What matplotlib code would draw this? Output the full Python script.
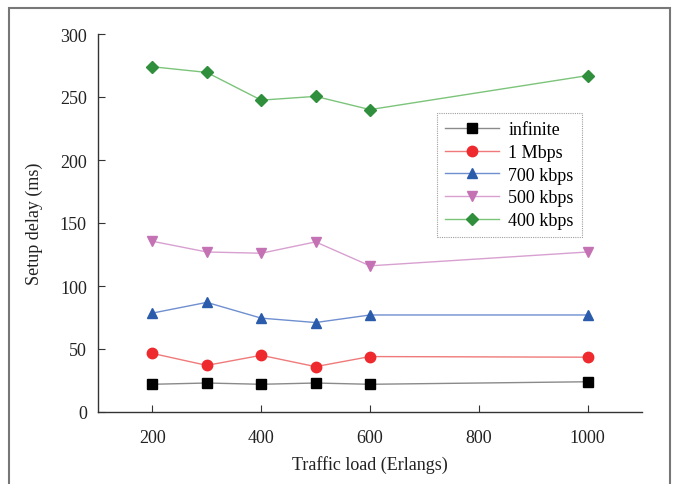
import matplotlib
matplotlib.use("Agg")
import matplotlib.pyplot as plt
from matplotlib.patches import Rectangle

plt.rcParams['font.family'] = ['Liberation Serif', 'DejaVu Serif']

x = [200, 300, 400, 500, 600, 1000]
series_names = ["infinite", "1 Mbps", "700 kbps", "500 kbps", "400 kbps"]
infinite = [22, 23, 22, 23, 22, 24]
mbps1 = [46.5, 37, 45, 36, 44, 43.5]
kbps700 = [78.5, 87, 74.5, 71, 77, 77]
kbps500 = [135.5, 127, 126, 135, 116, 127]
kbps400 = [274, 269.5, 247.5, 250.5, 240, 267]
xticks = [200, 400, 600, 800, 1000]
yticks = [0, 50, 100, 150, 200, 250, 300]

W, H = 677, 485
fig = plt.figure(figsize=(W / 100, H / 100), dpi=100)
ax = fig.add_axes([98 / W, 1 - 413 / H, (642 - 98) / W, (413 - 35) / H])

styles = [
    (infinite, "#000000", "#8a8a8a", "s", 6.5),
    (mbps1, "#ee2a2e", "#f07a7a", "o", 7.5),
    (kbps700, "#2b5bab", "#6f8fd0", "^", 7.5),
    (kbps500, "#c472b4", "#d8a0d0", "v", 7.5),
    (kbps400, "#2f8f3c", "#7cc47a", "D", 6.5),
]
for name, (vals, mc, lc, mk, ms) in zip(series_names, styles):
    ax.plot(x, vals, color=lc, lw=1.0, marker=mk, markersize=ms,
            markerfacecolor=mc, markeredgecolor=mc, label=name)

ax.set_xlim(100, 1100)
ax.set_ylim(0, 300)
ax.set_xticks(xticks)
ax.set_yticks(yticks)
ax.spines['top'].set_visible(False)
ax.spines['right'].set_visible(False)
for s in ['left', 'bottom']:
    ax.spines[s].set_color('#333333')
    ax.spines[s].set_linewidth(1.0)
ax.tick_params(direction='in', length=5, labelsize=13, colors='#333333',
               labelcolor='#222222')
ax.tick_params(axis='x', pad=12)
ax.tick_params(axis='y', pad=8)
ax.set_xlabel("Traffic load (Erlangs)", fontsize=13, labelpad=7, color='#222222')
ax.set_ylabel("Setup delay (ms)", fontsize=13, labelpad=12, color='#222222')

leg = ax.legend(loc='upper left', bbox_to_anchor=((437 - 98) / (642 - 98), 1 - (114 - 35) / (413 - 35)),
                fontsize=13, frameon=True, fancybox=False, borderpad=0.45,
                labelspacing=0.32, handlelength=3.0, handletextpad=0.5, borderaxespad=0)
frame = leg.get_frame()
frame.set_edgecolor('#888888')
frame.set_linestyle((0, (1, 1)))
frame.set_linewidth(0.8)

fig.patches.append(Rectangle((9 / W, -0.01), (670 - 9) / W, 1 - 9 / H + 0.01,
                             transform=fig.transFigure, fill=False,
                             edgecolor='#777777', lw=1.5))

fig.savefig("out.png", dpi=100)
